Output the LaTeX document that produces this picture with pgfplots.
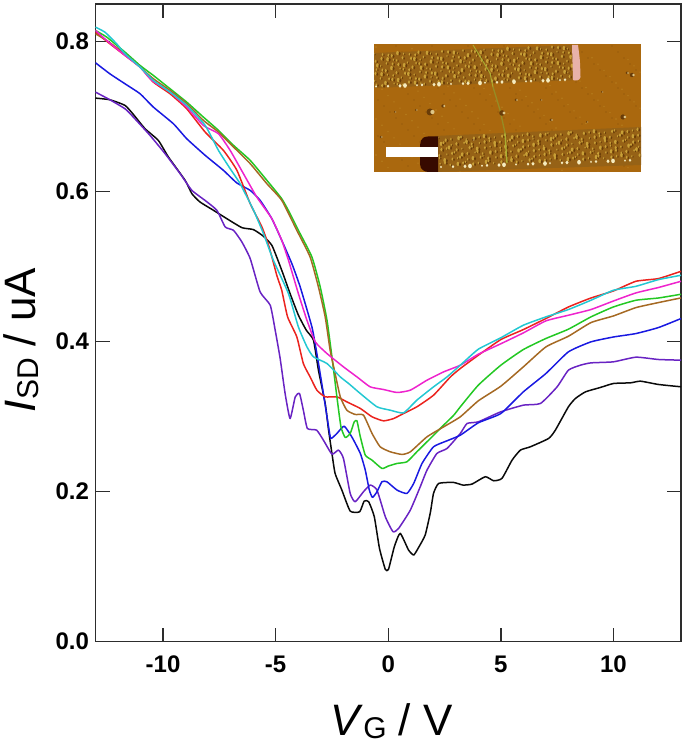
\documentclass[border=0pt]{standalone}
\usepackage{fontspec}
\setmainfont{Liberation Sans}
\usepackage{pgfplots}
\pgfplotsset{compat=1.18}
\definecolor{cblack}{RGB}{10,10,10}
\definecolor{cviolet}{RGB}{105,35,195}
\definecolor{cblue}{RGB}{25,25,225}
\definecolor{cred}{RGB}{235,35,30}
\definecolor{ccyan}{RGB}{35,200,210}
\definecolor{cmag}{RGB}{238,35,205}
\definecolor{cgreen}{RGB}{35,200,35}
\definecolor{cbrown}{RGB}{165,105,35}
\definecolor{axisc}{RGB}{45,45,45}
\definecolor{afm}{RGB}{170,104,14}
\definecolor{afmband}{RGB}{150,98,22}
\definecolor{afmlight}{RGB}{200,160,55}
\definecolor{afmdark}{RGB}{105,60,8}
\definecolor{afmwhite}{RGB}{245,235,190}
\definecolor{afmpink}{RGB}{232,178,170}
\definecolor{afmhole}{RGB}{55,10,0}
\definecolor{afmwire}{RGB}{170,175,50}
\begin{document}
\begin{tikzpicture}
\begin{axis}[
  scale only axis, width=585.5pt, height=637.5pt,
  xmin=-13, xmax=13, ymin=0, ymax=0.85,
  axis line style={line width=1.5pt,color=axisc},
  xtick={-10,-5,0,5,10}, xticklabels={-10,-5,0,5,10},
  ytick={0,0.2,0.4,0.6,0.8}, yticklabels={0.0,0.2,0.4,0.6,0.8},
  tick align=inside, major tick length=14pt,
  tick style={line width=1.3pt,color=axisc},
  tick pos=both, xticklabel pos=bottom, yticklabel pos=left,
  ticklabel style={font=\fontsize{24}{24}\selectfont\bfseries},
  xticklabel style={yshift=-11pt},
  yticklabel style={xshift=-3pt},
  xlabel={\textit{V}\raisebox{-3pt}{\fontsize{30}{30}\selectfont G} / V},
  ylabel={\textit{I}\raisebox{-3pt}{\fontsize{30}{30}\selectfont SD} / uA},
  every axis x label/.style={at={(axis description cs:0.5057,0)},yshift=-93.5pt,anchor=base,font=\fontsize{44}{44}\selectfont},
  every axis y label/.style={at={(axis description cs:0,0.473)},xshift=-59.5pt,rotate=90,anchor=base,font=\fontsize{44}{44}\selectfont},
  every axis plot/.append style={line width=1.5pt,line join=round,smooth,tension=0.3},
]
\addplot[cblack] coordinates {(-13,.7245)(-12.36,.7223)(-11.69,.7148)(-11.32,.7028)(-10.8,.6837)(-10.21,.6681)(-9.76,.6459)(-9.02,.6149)(-8.72,.5971)(-8.36,.586)(-7.76,.5749)(-7.17,.5638)(-6.5,.5518)(-5.99,.5492)(-5.54,.5403)(-5.17,.5283)(-4.87,.5061)(-4.65,.4884)(-4.36,.4639)(-3.99,.4351)(-3.64,.4151)(-3.32,.4017)(-3.1,.3617)(-2.8,.3173)(-2.65,.2818)(-2.5,.2507)(-2.36,.2241)(-2.06,.2019)(-1.69,.1739)(-1.27,.1730)(-1.07,.1872)(-.87,.1864)(-.62,.1664)(-.39,.1242)(-.13,.0962)(.01,.0962)(.27,.1264)(.53,.1442)(.9,.1220)(1.13,.1153)(1.35,.1255)(1.64,.1420)(1.87,.1720)(2.01,.1975)(2.24,.2108)(2.9,.2121)(3.31,.2086)(3.72,.2099)(4.31,.2197)(4.68,.2143)(5.05,.2175)(5.5,.2419)(5.87,.2552)(6.31,.2596)(7.12,.2707)(7.42,.2818)(8,.3129)(8.31,.324)(8.76,.3329)(9.42,.3387)(10,.344)(10.76,.3449)(11.2,.3471)(12,.3427)(13,.3396)};
\addplot[cviolet] coordinates {(-13,.7325)(-12.36,.7223)(-11.69,.7103)(-11.32,.6992)(-10.58,.6748)(-9.91,.6504)(-9.24,.6237)(-8.72,.6015)(-8.13,.5880)(-7.61,.5749)(-7.24,.5527)(-6.87,.5482)(-6.5,.5327)(-6.13,.5105)(-5.69,.4661)(-5.24,.4483)(-5.02,.4150)(-4.8,.3773)(-4.58,.3306)(-4.36,.2973)(-4.13,.3262)(-3.94,.3306)(-3.77,.3084)(-3.59,.2840)(-3.18,.2818)(-2.88,.2685)(-2.5,.2498)(-2.21,.2552)(-1.99,.2441)(-1.69,.1974)(-1.47,.1863)(-1.1,.1997)(-.8,.2086)(-.5,.2019)(-.13,.1663)(.21,.1464)(.46,.1508)(.98,.1752)(1.42,.2063)(1.72,.2285)(2.16,.2507)(2.61,.2574)(3.2,.2774)(3.5,.2907)(4,.2929)(5,.3063)(6,.3151)(6.76,.3174)(7.5,.3396)(8,.3618)(8.53,.3684)(9,.3715)(10,.3729)(11,.3791)(12,.376)(13,.3751)};
\addplot[cblue] coordinates {(-13,.7716)(-12.36,.7569)(-11.69,.7436)(-11.02,.7303)(-10.43,.7125)(-9.54,.6903)(-8.95,.6704)(-8.13,.6482)(-7.32,.6282)(-6.72,.6113)(-6.13,.6015)(-5.69,.5882)(-5.17,.5638)(-4.73,.5349)(-4.28,.5038)(-3.91,.4727)(-3.39,.4194)(-3.17,.3839)(-2.88,.3306)(-2.65,.2862)(-2.55,.2707)(-2.28,.2774)(-1.96,.2871)(-1.62,.2729)(-1.24,.2507)(-1.02,.2285)(-.84,.2019)(-.7,.1921)(-.5,.1997)(-.28,.2130)(-.06,.2130)(.39,.2019)(.83,.1974)(1.13,.2108)(1.5,.2374)(2.01,.2596)(2.61,.2676)(3.2,.2751)(4,.2916)(5,.304)(6,.3329)(7,.3573)(8,.3862)(9,.3995)(10,.406)(11,.4106)(12,.4186)(13,.4306)};
\addplot[cred] coordinates {(-13,.8124)(-12.36,.7969)(-11.69,.7814)(-11.02,.7658)(-10.43,.7458)(-9.69,.7303)(-8.95,.7103)(-8.13,.6792)(-7.32,.6548)(-6.72,.6282)(-6.13,.5838)(-5.61,.5527)(-5.29,.5260)(-4.95,.4883)(-4.73,.4683)(-4.47,.4328)(-4.06,.4061)(-3.77,.3706)(-3.47,.3528)(-3.17,.3351)(-2.8,.3262)(-2.28,.3262)(-1.84,.3195)(-1.24,.3107)(-.72,.2996)(-.21,.2942)(.24,.2973)(.68,.3040)(1.27,.3129)(2.01,.3284)(2.76,.3528)(3.2,.3640)(4,.3817)(5,.4026)(6,.4159)(7,.4306)(8,.4460)(9,.4580)(10,.4674)(11,.4803)(12,.4839)(13,.4936)};
\addplot[cgreen] coordinates {(-13,.8147)(-12.5,.8058)(-11.69,.7858)(-11.02,.7680)(-10.43,.7547)(-9.69,.7370)(-8.95,.7192)(-8.21,.6992)(-7.54,.6815)(-6.87,.6615)(-6.13,.6415)(-5.39,.6149)(-4.73,.5904)(-4.36,.5705)(-3.99,.5482)(-3.39,.5127)(-3.02,.4727)(-2.72,.4283)(-2.5,.3795)(-2.28,.3262)(-2.1,.2862)(-1.91,.2720)(-1.69,.2774)(-1.51,.2929)(-1.39,.2942)(-1.24,.2729)(-1.02,.2485)(-.72,.2418)(-.28,.2307)(0,.2339)(.39,.2374)(.83,.2396)(1.27,.2529)(1.87,.2707)(2.46,.2885)(2.91,.3018)(3.2,.3129)(4,.3418)(5,.3684)(6,.3893)(7,.404)(8,.4164)(9,.4328)(10,.4461)(11,.455)(12,.458)(13,.463)};
\addplot[cbrown] coordinates {(-13,.8102)(-12.5,.8013)(-11.69,.7836)(-11.02,.7658)(-10.43,.7503)(-9.69,.7347)(-8.95,.7170)(-8.21,.6948)(-7.54,.6792)(-6.87,.6593)(-6.13,.6371)(-5.39,.6104)(-4.73,.5882)(-4.06,.5482)(-3.47,.5127)(-3.1,.4727)(-2.8,.4328)(-2.58,.3884)(-2.36,.3573)(-2.13,.3262)(-1.84,.3084)(-1.47,.3027)(-1.1,.3018)(-.72,.2774)(-.36,.2596)(.09,.2529)(.61,.2494)(.98,.2529)(1.72,.2729)(2.46,.2862)(3.2,.2996)(4,.3209)(5,.3404)(6,.3662)(7,.3928)(8,.407)(9,.4252)(10,.4341)(11,.4452)(12,.4519)(13,.4581)};
\addplot[cmag] coordinates {(-13,.8147)(-12.5,.8013)(-11.69,.7814)(-11.02,.7658)(-10.5,.7481)(-9.69,.7325)(-8.95,.7125)(-8.21,.6881)(-7.54,.6770)(-7.02,.6548)(-6.43,.6237)(-5.84,.5927)(-5.17,.5638)(-4.73,.5349)(-4.43,.5082)(-3.99,.4638)(-3.61,.4283)(-3.24,.3995)(-2.72,.3839)(-1.99,.3662)(-1.39,.3528)(-.8,.3395)(-.21,.3360)(.39,.3320)(.98,.3351)(1.72,.3484)(2.46,.3595)(3.2,.3684)(4,.383)(5,.397)(6,.4115)(7,.4275)(8,.435)(9,.4426)(10,.454)(11,.4648)(12,.472)(13,.4803)};
\addplot[ccyan] coordinates {(-13,.8191)(-12.58,.8124)(-12.06,.7969)(-11.69,.7836)(-11.02,.7658)(-10.43,.7481)(-9.69,.7325)(-8.95,.7148)(-8.13,.6881)(-7.54,.6548)(-7.02,.6304)(-6.58,.6105)(-5.98,.5749)(-5.54,.5438)(-5.1,.5082)(-4.43,.4638)(-3.99,.4194)(-3.61,.3928)(-3.32,.3795)(-2.72,.3706)(-2.13,.3528)(-1.76,.3440)(-1.24,.3306)(-.5,.3129)(.09,.3084)(.68,.3049)(1.27,.3218)(2.01,.3395)(2.61,.3528)(3.2,.3684)(4,.3897)(5,.405)(6,.4217)(7,.4328)(8,.4426)(9,.455)(10,.4683)(11,.4736)(12,.4825)(13,.4883)};
\end{axis}
% inset AFM picture, drawn in reference pixel coordinates
\begin{scope}[shift={(-95.5pt,641.5pt)},x=1pt,y=-1pt]
\begin{scope}
\clip (374,44.5) rectangle (641,171.7);
\fill[afm] (374,44.5) rectangle (641,171.7);
\foreach \i in {0,...,44}{\foreach \j in {0,...,20}{
  \pgfmathsetmacro{\hh}{int(mod(\i*13+\j*29,6))}
  \ifnum\hh=0 \fill[afmlight,opacity=.35] (376+\i*6,47+\j*6+\i*.3) circle (.8);\fi
  \ifnum\hh=3 \fill[afmdark,opacity=.25] (378+\i*6,46+\j*6) circle (.8);\fi
}}
\fill[afmband] (374,53)--(572,45)--(578,80)--(374,88)--cycle;
\fill[afmband] (435,136)--(641,127)--(641,165)--(435,172)--cycle;
\foreach \i in {0,...,36}{\foreach \j in {0,...,6}{
  \pgfmathsetmacro{\hx}{0.7*(mod(\i*3+\j*5,4))+0.5*(mod(\i*7+\j*2,5))}
  \pgfmathsetmacro{\hy}{0.8*(mod(\i*5+\j*3,4))}
  \pgfmathsetmacro{\hr}{0.8+0.18*(mod(\i*11+\j*7,5))}
  \pgfmathsetmacro{\xx}{374+\i*5.5+\hx}
  \pgfmathsetmacro{\yy}{54+\j*4.9+\hy-\i*0.22}
  \fill[afmlight] (\xx,\yy) ellipse (\hr*0.9 and \hr*1.4);
  \fill[afmdark] (\xx+\hr*1.4,\yy+.6) ellipse (\hr*0.7 and \hr*1.3);
}}
\foreach \i in {0,...,37}{\foreach \j in {0,...,5}{
  \pgfmathsetmacro{\hx}{0.7*(mod(\i*5+\j*3,4))+0.5*(mod(\i*3+\j*7,5))}
  \pgfmathsetmacro{\hy}{0.8*(mod(\i*3+\j*5,4))}
  \pgfmathsetmacro{\hr}{0.8+0.18*(mod(\i*13+\j*9,5))}
  \pgfmathsetmacro{\xx}{438+\i*5.5+\hx}
  \pgfmathsetmacro{\yy}{138+\j*5.0+\hy-\i*0.24}
  \fill[afmlight] (\xx,\yy) ellipse (\hr*0.9 and \hr*1.4);
  \fill[afmdark] (\xx+\hr*1.4,\yy+.6) ellipse (\hr*0.7 and \hr*1.3);
}}
\foreach \i in {0,...,21}{
  \pgfmathsetmacro{\hx}{int(mod(\i*17,7))}
  \pgfmathsetmacro{\hr}{.8+.25*int(mod(\i*5,4))}
  \fill[afmwhite] (376+\i*9+\hx,86.5-\i*0.32) ellipse (\hr*1.2 and \hr*1.5);
  \fill[afmwhite] (441+\i*9+\hx,167-\i*0.32) ellipse (\hr*1.2 and \hr*1.5);
}
\draw[line width=.9pt,color=afmwire] (473,45)--(481,58)--(490,73)--(493,87);
\draw[line width=1.3pt,color=afmwire!70!afmdark] (493,87)--(500,110)--(505,133);
\draw[line width=1.3pt,color=afmwire] (505,133)--(507,163);
\fill[afmpink] (572,45) -- (578,45) .. controls (580,60) .. (580.5,77) .. controls (580,81) and (575,81) .. (573,80) -- cycle;
\fill[afmhole] (438,136.5) -- (428,136.5) .. controls (420,137) and (420,142) .. (420,150) -- (420,164) .. controls (420,170) and (425,172) .. (429,172) -- (438,172) -- cycle;
\foreach \a/\b/\r in {430/112/3.5,502/113/2.8,623/117/2.6,632/75/2.2,627/73/1.5,516/100/1.5,443/106/1.8,416/110/1.2,551/120/1.5,473/140/1,395/112/1,381/137/1.3,541/100/1,602/92/1,587/122/1}{
  \fill[afmdark] (\a,\b) circle (\r);
  \fill[afmlight!60!white] (\a+\r*.7,\b) circle (\r*.6);
}
\end{scope}
\fill[white] (386,147) rectangle (438,157);
\end{scope}
\pgfresetboundingbox
\path (-95.5pt,-101.5pt) rectangle (589.5pt,641.5pt);
\end{tikzpicture}
\end{document}
